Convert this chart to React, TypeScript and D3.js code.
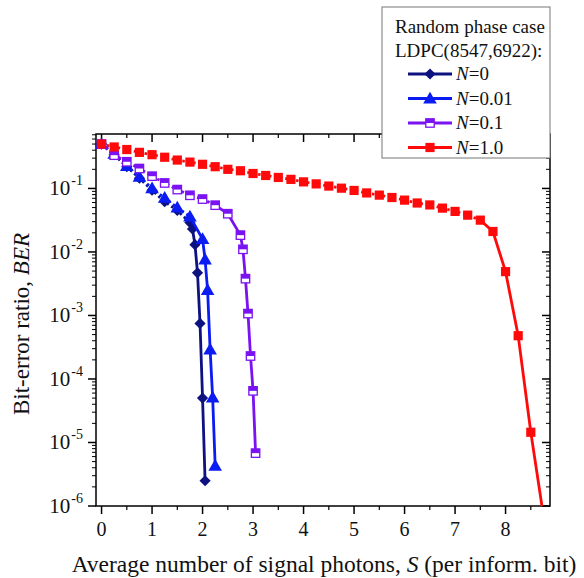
import React from 'react';
import * as d3 from 'd3';

// N = 0
const sN0 = [0, 0.25, 0.5, 0.75, 1.0, 1.25, 1.5, 1.75, 1.8, 1.85, 1.9, 1.95, 2.0, 2.05];
const berN0 = [0.5, 0.34, 0.22, 0.145, 0.094, 0.062, 0.045, 0.029, 0.023, 0.013, 0.0047, 7.5e-4, 5e-5, 2.5e-6];

// N = 0.01
const sN001 = [0, 0.25, 0.5, 0.75, 1.0, 1.25, 1.5, 1.75, 2.0, 2.05, 2.1, 2.15, 2.2, 2.25];
const berN001 = [0.5, 0.35, 0.225, 0.152, 0.1, 0.071, 0.05, 0.036, 0.016, 0.0076, 0.0025, 2.9e-4, 5.1e-5, 4.3e-6];

// N = 0.1
const sN01 = [0, 0.25, 0.5, 0.75, 1.0, 1.25, 1.5, 1.75, 2.0, 2.25, 2.5, 2.75, 2.8, 2.85, 2.9, 2.95, 3.0, 3.05];
const berN01 = [0.5, 0.334, 0.263, 0.206, 0.156, 0.122, 0.096, 0.078, 0.068, 0.0545, 0.04, 0.0184, 0.011, 0.0038, 0.00107, 2.3e-4, 6.5e-5, 6.8e-6];

// N = 1.0
const sN1 = [0, 0.25, 0.5, 0.75, 1.0, 1.25, 1.5, 1.75, 2.0, 2.25, 2.5, 2.75, 3.0, 3.25, 3.5, 3.75,
  4.0, 4.25, 4.5, 4.75, 5.0, 5.25, 5.5, 5.75, 6.0, 6.25, 6.5, 6.75, 7.0, 7.25, 7.5, 7.75, 8.0, 8.25, 8.5, 8.75];
const berN1 = [0.5, 0.45, 0.41, 0.37, 0.34, 0.31, 0.28, 0.26, 0.24, 0.22, 0.2, 0.19, 0.172, 0.16, 0.149, 0.139,
  0.127, 0.118, 0.109, 0.101, 0.093, 0.085, 0.0785, 0.072, 0.0655, 0.059, 0.055, 0.049, 0.0435, 0.038, 0.0317, 0.021,
  0.0049, 4.8e-4, 1.45e-5, 7e-7];

const xTickLabels = ['0', '1', '2', '3', '4', '5', '6', '7', '8'];
const yTickExps = [-6, -5, -4, -3, -2, -1];

const series = [
  { label: '0', s: sN0, ber: berN0, color: '#0d1280', marker: 'diamond', knee: 7 },
  { label: '0.01', s: sN001, ber: berN001, color: '#0a1cf2', marker: 'triangle', knee: 7 },
  { label: '0.1', s: sN01, ber: berN01, color: '#7a12f2', marker: 'halfsquare', knee: 9 },
  { label: '1.0', s: sN1, ber: berN1, color: '#ff0a0a', marker: 'square', knee: 30 },
];

const FONT = '"Liberation Serif", "Times New Roman", serif';

function Marker({ type, x, y, color }: { type: string; x: number; y: number; color: string }) {
  if (type === 'diamond') {
    return <path d={d3.symbol(d3.symbolDiamond2, 80)()!} transform={`translate(${x},${y})`} fill={color} />;
  }
  if (type === 'triangle') {
    return <path d={d3.symbol(d3.symbolTriangle, 80)()!} transform={`translate(${x},${y + 1})`} fill={color} />;
  }
  if (type === 'halfsquare') {
    const h = 4.2;
    return (
      <g>
        <rect x={x - h} y={y - h} width={2 * h} height={2 * h} fill="#fff" stroke={color} strokeWidth={1.3} />
        <rect x={x - h} y={y - h} width={2 * h} height={h} fill={color} />
      </g>
    );
  }
  const h = 4.6;
  return <rect x={x - h} y={y - h} width={2 * h} height={2 * h} fill={color} />;
}

export default function App() {
  const width = 584;
  const height = 578;
  const left = 96, right = 550, top = 134, bottom = 506;

  const x = d3.scaleLinear().domain([-0.11, 8.88]).range([left, right]);
  const y = d3.scaleLog().domain([1e-6, 0.72]).range([bottom, top]);

  const line = d3.line<[number, number]>().x(d => x(d[0])).y(d => y(d[1]));

  const xMajor = xTickLabels.map(Number);
  const xMinor = d3.range(0.5, 8.6, 1);
  const yMajor = yTickExps.map(e => Math.pow(10, e));
  const yMinor: number[] = [];
  yTickExps.forEach(e => {
    for (let k = 2; k <= 9; k++) {
      const v = k * Math.pow(10, e);
      if (v <= 0.72) yMinor.push(v);
    }
  });

  return (
    <svg width={width} height={height} style={{ position: 'absolute', left: 0, top: 0, background: '#fff' }}>
      <defs>
        <clipPath id="plot">
          <rect x={left} y={top} width={right - left} height={bottom - top} />
        </clipPath>
      </defs>

      {/* frame */}
      <rect x={left} y={top} width={right - left} height={bottom - top} fill="none" stroke="#000" strokeWidth={1.5} />

      {/* x ticks: bottom outward, top inward */}
      {xMajor.map(t => (
        <g key={'xm' + t}>
          <line x1={x(t)} x2={x(t)} y1={bottom} y2={bottom + 8} stroke="#000" strokeWidth={1.5} />
          <line x1={x(t)} x2={x(t)} y1={top} y2={top + 8} stroke="#000" strokeWidth={1.5} />
          <text x={x(t)} y={536} textAnchor="middle" fontSize={20} fontFamily={FONT} fill="#111">{t}</text>
        </g>
      ))}
      {xMinor.map(t => (
        <g key={'xn' + t}>
          <line x1={x(t)} x2={x(t)} y1={bottom} y2={bottom + 4} stroke="#000" strokeWidth={1.2} />
          <line x1={x(t)} x2={x(t)} y1={top} y2={top + 4} stroke="#000" strokeWidth={1.2} />
        </g>
      ))}

      {/* y ticks: left outward, right inward */}
      {yMajor.map((t, i) => (
        <g key={'ym' + i}>
          <line x1={left - 8} x2={left} y1={y(t)} y2={y(t)} stroke="#000" strokeWidth={1.5} />
          <line x1={right - 8} x2={right} y1={y(t)} y2={y(t)} stroke="#000" strokeWidth={1.5} />
          <text x={83} y={y(t) + 7} textAnchor="end" fontSize={21} fontFamily={FONT} fill="#111">
            10<tspan dy={-10} dx={1} fontSize={14}>{yTickExps[i]}</tspan>
          </text>
        </g>
      ))}
      {yMinor.map((t, i) => (
        <g key={'yn' + i}>
          <line x1={left - 4} x2={left} y1={y(t)} y2={y(t)} stroke="#000" strokeWidth={1} />
          <line x1={right - 4} x2={right} y1={y(t)} y2={y(t)} stroke="#000" strokeWidth={1} />
        </g>
      ))}

      {/* series */}
      <g clipPath="url(#plot)">
        {series.map(sr => {
          const pts: [number, number][] = sr.s.map((v, i) => [v, sr.ber[i]]);
          return (
            <g key={sr.label}>
              <path d={line(pts.slice(0, sr.knee + 1))!} fill="none" stroke={sr.color} strokeWidth={2.8}
                strokeDasharray="2.5,3" />
              <path d={line(pts.slice(sr.knee))!} fill="none" stroke={sr.color} strokeWidth={2.8} />
              {pts.map((p, i) => (
                <Marker key={i} type={sr.marker} x={x(p[0])} y={y(p[1])} color={sr.color} />
              ))}
            </g>
          );
        })}
      </g>

      {/* axis titles */}
      <text x={324} y={572} textAnchor="middle" fontSize={23.5} fontFamily={FONT} fill="#111">
        Average number of signal photons, <tspan fontStyle="italic">S</tspan> (per inform. bit)
      </text>
      <text transform={`translate(29,324) rotate(-90)`} textAnchor="middle" fontSize={23} fontFamily={FONT} fill="#111">
        Bit-error ratio, <tspan fontStyle="italic">BER</tspan>
      </text>

      {/* legend */}
      <g>
        <rect x={382} y={7} width={168} height={151} fill="#fff" stroke="#777" strokeWidth={1} />
        <text x={395} y={33} fontSize={19} fontFamily={FONT} fill="#111">Random phase case</text>
        <text x={395} y={57} fontSize={19} fontFamily={FONT} fill="#111">LDPC(8547,6922):</text>
        {series.map((sr, i) => {
          const by = 80 + i * 24.5;
          const cy = by - 6;
          return (
            <g key={'lg' + sr.label}>
              <line x1={408} x2={452} y1={cy} y2={cy} stroke={sr.color} strokeWidth={2.8} />
              <Marker type={sr.marker} x={430} y={cy} color={sr.color} />
              <text x={456} y={by} fontSize={19} fontFamily={FONT} fill="#111">
                <tspan fontStyle="italic">N</tspan>={sr.label}
              </text>
            </g>
          );
        })}
      </g>
    </svg>
  );
}
